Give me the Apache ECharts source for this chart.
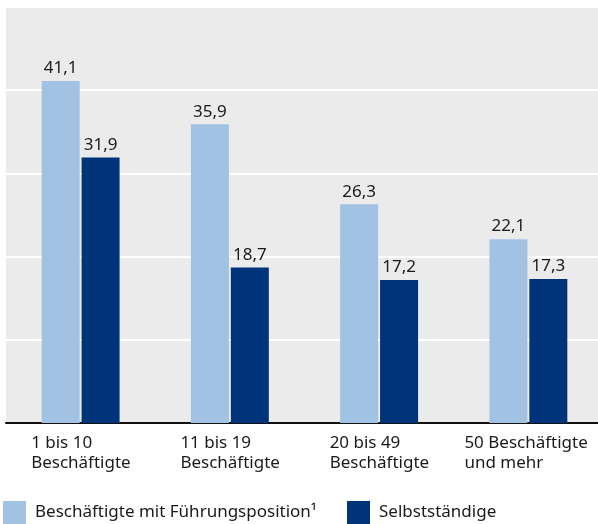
<!DOCTYPE html>
<html><head><meta charset="utf-8">
<script src="https://cdn.jsdelivr.net/npm/echarts@6/dist/echarts.min.js"></script>
<style>html,body{margin:0;padding:0;background:#fff}#c{width:598px;height:524px}</style>
</head><body><div id="c"></div>
<script>
const categories = ["1 bis 10\nBeschäftigte", "11 bis 19\nBeschäftigte", "20 bis 49\nBeschäftigte", "50 Beschäftigte\nund mehr"];
const seriesNames = ["Beschäftigte mit Führungsposition¹", "Selbstständige"];
const fuehrung = [41.1, 35.9, 26.3, 22.1];
const selbst = [31.9, 18.7, 17.2, 17.3];
const yTicks = [0, 10, 20, 30, 40, 50];

const FONT = "Noto Sans";
const FS = 17;
const TXT = "#1a1a1a";
const LIGHT = "#a2c2e3";
const DARK = "#00347a";

const chart = echarts.init(document.getElementById('c'), null, {renderer: 'canvas'});
const fmt = v => v.toFixed(1).replace('.', ',');
const blockW = [99, 99, 99, 128];
const rich = {};
blockW.forEach((w, i) => { rich['c' + i] = {width: w, align: 'left', fontFamily: FONT, fontSize: FS, color: TXT, lineHeight: 20}; });

chart.setOption({
  animation: false,
  textStyle: {fontFamily: FONT},
  grid: {left: 6, width: 597, top: 7, bottom: 101, show: true, backgroundColor: '#ebebeb', borderWidth: 0,
         containLabel: false, outerBoundsMode: 'none'},
  legend: [
    {data: [seriesNames[0]], left: 3, top: 501, padding: 0, itemWidth: 23, itemHeight: 23, itemGap: 0,
     icon: 'rect', textStyle: {fontFamily: FONT, fontSize: FS, color: TXT, padding: [4, 0, 0, 4]}},
    {data: [seriesNames[1]], left: 347, top: 501, padding: 0, itemWidth: 23, itemHeight: 23, itemGap: 0,
     icon: 'rect', textStyle: {fontFamily: FONT, fontSize: FS, color: TXT, padding: [4, 0, 0, 4]}}
  ],
  xAxis: {
    type: 'category', data: categories,
    axisLine: {show: true, lineStyle: {color: '#111', width: 2}},
    axisTick: {show: false},
    axisLabel: {
      margin: 10, interval: 0, align: 'center',
      formatter: (v, i) => v.split('\n').map(l => '{c' + i + '|' + l + '}').join('\n'),
      rich: rich
    }
  },
  yAxis: {
    type: 'value', min: yTicks[0], max: yTicks[yTicks.length - 1], interval: 10,
    axisLine: {show: false}, axisTick: {show: false}, axisLabel: {show: false},
    splitLine: {show: true, lineStyle: {color: '#ffffff', width: 2}}
  },
  series: [
    {name: seriesNames[0], type: 'bar', data: fuehrung, barWidth: 38, barGap: '5%',
     itemStyle: {color: LIGHT},
     label: {show: true, position: 'top', distance: 4, formatter: p => fmt(p.value), fontFamily: FONT, fontSize: FS, color: TXT}},
    {name: seriesNames[1], type: 'bar', data: selbst, barWidth: 38, barGap: '5%',
     itemStyle: {color: DARK},
     label: {show: true, position: 'top', distance: 4, formatter: p => fmt(p.value), fontFamily: FONT, fontSize: FS, color: TXT}}
  ]
});
</script></body></html>
